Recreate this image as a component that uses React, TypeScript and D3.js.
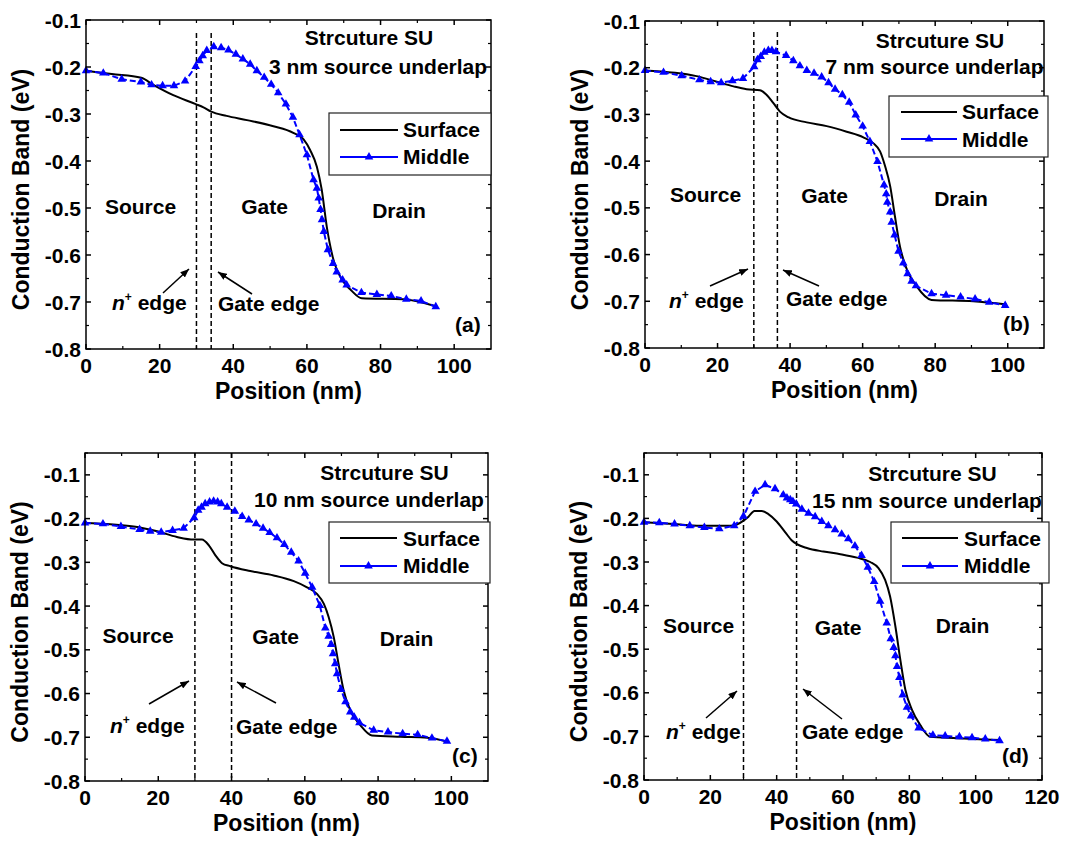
import React from 'react';
import * as d3 from 'd3';

type Pt = [number, number];

// ---------------- DATA ----------------
const surfaceA: Pt[] = [[0,-0.208],[7,-0.215],[15,-0.223],[18.3,-0.238],[23.7,-0.260],[29.8,-0.279],[31.9,-0.286],[34,-0.295],[38.2,-0.304],[43.7,-0.313],[50.9,-0.326],[56.3,-0.340],[59.1,-0.354],[60.9,-0.377],[62.7,-0.412],[64,-0.460],[65.4,-0.540],[67,-0.604],[69.9,-0.657],[72,-0.675],[74.9,-0.692],[86.2,-0.694],[95,-0.709]];
const middleA: Pt[] = [[0,-0.208],[4.7,-0.213],[9.7,-0.226],[14.9,-0.232],[17.8,-0.238],[20.8,-0.240],[23.9,-0.240],[26.9,-0.230],[29.8,-0.199],[30.8,-0.187],[31.7,-0.176],[32.8,-0.165],[34.7,-0.157],[36.7,-0.159],[38.7,-0.164],[40.7,-0.173],[42.6,-0.183],[44.6,-0.194],[46.4,-0.208],[48.4,-0.222],[50.3,-0.237],[52.2,-0.255],[54.3,-0.279],[56.2,-0.307],[58.0,-0.344],[60.0,-0.387],[61.8,-0.440],[62.7,-0.458],[63.2,-0.479],[63.7,-0.503],[64.1,-0.525],[64.6,-0.550],[65.7,-0.589],[67.1,-0.618],[68.1,-0.636],[69.7,-0.653],[70.8,-0.664],[74.8,-0.680],[79.0,-0.684],[82.9,-0.687],[87.0,-0.694],[91.0,-0.698],[95.0,-0.710]];

const surfaceB: Pt[] = [[0,-0.206],[14.2,-0.218],[19.8,-0.230],[24.4,-0.240],[28,-0.246],[31.7,-0.248],[33.5,-0.258],[35.4,-0.276],[37.2,-0.294],[39.5,-0.306],[44.6,-0.317],[50.1,-0.325],[55.6,-0.337],[60.2,-0.349],[63,-0.362],[64.8,-0.379],[66.2,-0.411],[67.6,-0.454],[68.9,-0.518],[70.3,-0.583],[72.2,-0.632],[74.9,-0.668],[79,-0.697],[90.5,-0.700],[99.7,-0.707]];
const middleB: Pt[] = [[0,-0.206],[5.1,-0.210],[10.1,-0.217],[15.0,-0.226],[18.1,-0.230],[21.0,-0.232],[24.1,-0.228],[27.0,-0.223],[30.1,-0.198],[31.0,-0.183],[31.9,-0.176],[32.9,-0.167],[34.0,-0.163],[35.0,-0.163],[36.1,-0.166],[38.9,-0.174],[40.9,-0.185],[42.7,-0.196],[44.6,-0.206],[46.6,-0.212],[48.7,-0.220],[50.6,-0.232],[52.4,-0.246],[54.4,-0.258],[56.3,-0.274],[58.1,-0.301],[60.0,-0.325],[62.0,-0.358],[64.1,-0.401],[65.9,-0.451],[66.5,-0.470],[66.8,-0.488],[67.6,-0.509],[68.0,-0.531],[68.8,-0.558],[69.9,-0.593],[71.2,-0.618],[72.4,-0.641],[73.5,-0.657],[74.7,-0.667],[79.0,-0.684],[83.0,-0.687],[87.0,-0.691],[91.0,-0.695],[94.9,-0.702],[99.3,-0.709]];

const surfaceC: Pt[] = [[0,-0.210],[13.3,-0.218],[19.7,-0.229],[25.1,-0.242],[29.7,-0.248],[31.9,-0.248],[33.8,-0.261],[35.6,-0.284],[37.4,-0.302],[39.7,-0.309],[45.1,-0.320],[51.5,-0.330],[57,-0.343],[60.6,-0.357],[63.3,-0.372],[65.2,-0.395],[66.5,-0.425],[67.9,-0.471],[69.2,-0.532],[70.6,-0.593],[72.4,-0.638],[75.2,-0.673],[78.3,-0.696],[86.1,-0.699],[93.4,-0.701],[99.3,-0.711]];
const middleC: Pt[] = [[0,-0.210],[4.9,-0.212],[9.8,-0.218],[14.9,-0.225],[17.8,-0.229],[20.8,-0.231],[23.9,-0.227],[26.9,-0.222],[29.8,-0.198],[30.9,-0.181],[31.8,-0.174],[32.8,-0.166],[34.0,-0.162],[35.1,-0.160],[36.2,-0.162],[37.2,-0.166],[38.8,-0.174],[40.9,-0.183],[42.9,-0.195],[44.7,-0.203],[46.7,-0.212],[48.6,-0.222],[50.4,-0.232],[52.4,-0.244],[54.4,-0.259],[56.3,-0.277],[58.3,-0.297],[60.1,-0.325],[62.0,-0.357],[64.1,-0.399],[65.6,-0.450],[66.5,-0.469],[67.2,-0.488],[67.7,-0.509],[68.3,-0.532],[68.8,-0.555],[69.9,-0.591],[71.1,-0.619],[72.4,-0.642],[73.5,-0.654],[74.9,-0.667],[78.8,-0.684],[82.7,-0.688],[86.7,-0.692],[90.8,-0.694],[94.7,-0.702],[98.8,-0.709]];

const surfaceD: Pt[] = [[0,-0.209],[8.9,-0.213],[16.9,-0.217],[26,-0.217],[28,-0.214],[30,-0.205],[31.5,-0.196],[33.3,-0.183],[35.5,-0.183],[37.5,-0.190],[40,-0.207],[42.6,-0.232],[44.5,-0.250],[46.1,-0.259],[49.1,-0.268],[54.1,-0.276],[59.2,-0.282],[64.2,-0.290],[68.2,-0.300],[70.7,-0.314],[72.7,-0.341],[74.2,-0.379],[75.8,-0.448],[77.3,-0.525],[78.8,-0.593],[80.8,-0.639],[83.3,-0.674],[86.3,-0.701],[94.4,-0.704],[99.4,-0.706],[107.4,-0.708]];
const middleD: Pt[] = [[0,-0.209],[4.6,-0.210],[9.2,-0.213],[13.8,-0.217],[18.2,-0.221],[22.7,-0.224],[27.2,-0.217],[30.0,-0.195],[33.5,-0.138],[36.5,-0.123],[39.5,-0.132],[42.0,-0.146],[43.1,-0.153],[44.1,-0.157],[44.9,-0.161],[45.9,-0.167],[47.6,-0.179],[49.6,-0.188],[51.6,-0.196],[53.6,-0.207],[55.6,-0.217],[57.6,-0.226],[59.6,-0.236],[61.6,-0.247],[63.6,-0.263],[65.6,-0.285],[67.5,-0.312],[69.4,-0.345],[71.2,-0.390],[73.2,-0.440],[74.4,-0.476],[75.3,-0.496],[75.8,-0.515],[76.3,-0.540],[77.0,-0.565],[78.0,-0.605],[79.3,-0.633],[80.5,-0.653],[82.8,-0.681],[87.1,-0.697],[90.8,-0.699],[95.1,-0.701],[98.9,-0.703],[102.9,-0.706],[107.2,-0.710]];

const xTicksA = [0, 20, 40, 60, 80, 100];
const xTicksD = [0, 20, 40, 60, 80, 100, 120];
const yTicks = [-0.8, -0.7, -0.6, -0.5, -0.4, -0.3, -0.2, -0.1];
const seriesNames = ['Surface', 'Middle'];
const regionNames = ['Source', 'Gate', 'Drain'];
const underlaps = [3, 7, 10, 15];
const panelTags = ['(a)', '(b)', '(c)', '(d)'];
const nEdgeX = [30, 30, 30, 30];
const gateEdgeX = [34, 36.5, 40, 46];

// ---------------- LAYOUT ----------------
interface Layout {
  left: number; right: number; top: number; bottom: number;
  xMax: number; yTop: number; xTicks: number[];
  title1: [number, number]; title2: [number, number];
  legend: [number, number, number, number];
  legLine: [number, number]; legText: number; legY: [number, number]; legBase: [number, number];
  source: [number, number]; gate: [number, number]; drain: [number, number];
  nEdge: [number, number]; gEdge: [number, number]; tag: [number, number];
  arrow1: [number, number, number, number]; arrow2: [number, number, number, number];
  dashTop: number;
}

const layouts: Layout[] = [
  {
    left: 86, right: 491, top: 20, bottom: 349, xMax: 110, yTop: -0.1, xTicks: xTicksA,
    title1: [283, 25], title2: [292, 54],
    legend: [243, 93, 162, 62], legLine: [254, 312], legText: 317, legY: [110, 137], legBase: [117, 144],
    source: [54.5, 194], gate: [178.5, 194], drain: [313, 198],
    nEdge: [26, 290], gEdge: [132, 291], tag: [369, 312],
    arrow1: [77, 273, 103, 249], arrow2: [166, 274, 132, 252], dashTop: 13,
  },
  {
    left: 645, right: 1044, top: 21, bottom: 348, xMax: 110, yTop: -0.1, xTicks: xTicksA,
    title1: [295, 27], title2: [289.5, 53],
    legend: [244, 75, 159, 61], legLine: [256, 312], legText: 317, legY: [91, 118], legBase: [98, 126],
    source: [60.5, 181], gate: [179.5, 182], drain: [316, 185],
    nEdge: [24, 287], gEdge: [141, 285], tag: [358, 310],
    arrow1: [65, 265, 103, 248], arrow2: [174, 265, 138, 249], dashTop: 11,
  },
  {
    left: 85, right: 488, top: 453, bottom: 781, xMax: 110, yTop: -0.05, xTicks: xTicksA,
    title1: [299.5, 27], title2: [284, 54],
    legend: [244, 69, 161, 61], legLine: [255, 312], legText: 318, legY: [85, 113], legBase: [93, 120],
    source: [53, 190], gate: [190.5, 191], drain: [321.5, 193],
    nEdge: [25, 280], gEdge: [151, 281], tag: [367, 310],
    arrow1: [64, 251, 104, 228], arrow2: [191, 250, 152, 229], dashTop: 0,
  },
  {
    left: 644, right: 1042, top: 453, bottom: 780, xMax: 120, yTop: -0.05, xTicks: xTicksD,
    title1: [288.5, 28], title2: [283, 55],
    legend: [247, 69, 158, 61], legLine: [258, 314], legText: 320, legY: [85, 113], legBase: [93, 120],
    source: [54.5, 180], gate: [194, 182], drain: [318.5, 180],
    nEdge: [22, 286], gEdge: [158, 286], tag: [358, 310],
    arrow1: [62, 265, 93, 238], arrow2: [198, 266, 159, 236], dashTop: 0,
  },
];

const surfaces = [surfaceA, surfaceB, surfaceC, surfaceD];
const middles = [middleA, middleB, middleC, middleD];

const FONT = '"Liberation Sans", Arial, Helvetica, sans-serif';
const BLUE = '#0000ff';

function Panel({ idx }: { idx: number }) {
  const L = layouts[idx];
  const x = d3.scaleLinear().domain([0, L.xMax]).range([L.left, L.right]);
  const y = d3.scaleLinear().domain([-0.8, L.yTop]).range([L.bottom, L.top]);
  const surfLine = d3.line<Pt>().x(d => x(d[0])).y(d => y(d[1])).curve(d3.curveMonotoneX);
  const midLine = d3.line<Pt>().x(d => x(d[0])).y(d => y(d[1]));
  const tri = d3.symbol(d3.symbolTriangle, 32)() as string;

  const xMinor = d3.range(10, L.xMax, 20);
  const yMinor = d3.range(-0.75, L.yTop + 1e-9, 0.1).map(v => Math.round(v * 100) / 100);

  const ox = L.left, oy = L.top;
  const MAJ = 5, MIN = 3;
  const fs = 21;
  const cx = (L.left + L.right) / 2;
  const cy = (L.top + L.bottom) / 2 + 5;

  return (
    <g fontFamily={FONT} fontWeight="bold" fill="#000">
      {/* vertical dashed edges */}
      {[nEdgeX[idx], gateEdgeX[idx]].map((v, i) => (
        <line key={'e' + i} x1={x(v)} x2={x(v)} y1={oy + L.dashTop} y2={L.bottom}
          stroke="#000" strokeWidth={1.5} strokeDasharray="5,3" />
      ))}

      {/* curves */}
      <path d={surfLine(surfaces[idx]) || ''} fill="none" stroke="#000" strokeWidth={2} />
      <path d={midLine(middles[idx]) || ''} fill="none" stroke={BLUE} strokeWidth={2} strokeDasharray="6,3" />
      {middles[idx].map((d, i) => (
        <path key={'m' + i} d={tri} transform={`translate(${x(d[0])},${y(d[1])})`} fill={BLUE} />
      ))}

      {/* frame */}
      <rect x={L.left} y={L.top} width={L.right - L.left} height={L.bottom - L.top}
        fill="none" stroke="#000" strokeWidth={1.5} />

      {/* x ticks */}
      {L.xTicks.map(v => (
        <g key={'xt' + v}>
          <line x1={x(v)} x2={x(v)} y1={L.bottom} y2={L.bottom - MAJ} stroke="#000" strokeWidth={1.5} />
          <line x1={x(v)} x2={x(v)} y1={L.top} y2={L.top + MAJ} stroke="#000" strokeWidth={1.5} />
          <text x={x(v)} y={L.bottom + 24} textAnchor="middle" fontSize={fs}>{String(v)}</text>
        </g>
      ))}
      {xMinor.map(v => (
        <g key={'xm' + v}>
          <line x1={x(v)} x2={x(v)} y1={L.bottom} y2={L.bottom - MIN} stroke="#000" strokeWidth={1.2} />
          <line x1={x(v)} x2={x(v)} y1={L.top} y2={L.top + MIN} stroke="#000" strokeWidth={1.2} />
        </g>
      ))}
      {/* y ticks */}
      {yTicks.map(v => (
        <g key={'yt' + v}>
          <line x1={L.left} x2={L.left + MAJ} y1={y(v)} y2={y(v)} stroke="#000" strokeWidth={1.5} />
          <line x1={L.right} x2={L.right - MAJ} y1={y(v)} y2={y(v)} stroke="#000" strokeWidth={1.5} />
          <text x={L.left - 5} y={y(v)} dy="0.36em" textAnchor="end" fontSize={fs}>{v.toFixed(1)}</text>
        </g>
      ))}
      {yMinor.map(v => (
        <g key={'ym' + v}>
          <line x1={L.left} x2={L.left + MIN} y1={y(v)} y2={y(v)} stroke="#000" strokeWidth={1.2} />
          <line x1={L.right} x2={L.right - MIN} y1={y(v)} y2={y(v)} stroke="#000" strokeWidth={1.2} />
        </g>
      ))}

      {/* axis titles */}
      <text x={cx} y={L.bottom + 50} textAnchor="middle" fontSize={23}>Position (nm)</text>
      <text transform={`translate(${L.left - 57},${cy}) rotate(-90)`} textAnchor="middle" fontSize={23}>
        Conduction Band (eV)
      </text>

      {/* titles */}
      <text x={ox + L.title1[0]} y={oy + L.title1[1]} textAnchor="middle" fontSize={fs}>Strcuture SU</text>
      <text x={ox + L.title2[0]} y={oy + L.title2[1]} textAnchor="middle" fontSize={fs}>
        {`${underlaps[idx]} nm source underlap`}
      </text>

      {/* legend */}
      <rect x={ox + L.legend[0]} y={oy + L.legend[1]} width={L.legend[2]} height={L.legend[3]}
        fill="#fff" stroke="#222" strokeWidth={1.2} />
      <line x1={ox + L.legLine[0]} x2={ox + L.legLine[1]} y1={oy + L.legY[0]} y2={oy + L.legY[0]}
        stroke="#000" strokeWidth={2} />
      <line x1={ox + L.legLine[0]} x2={ox + L.legLine[1]} y1={oy + L.legY[1]} y2={oy + L.legY[1]}
        stroke={BLUE} strokeWidth={2} />
      <path d={tri} transform={`translate(${ox + (L.legLine[0] + L.legLine[1]) / 2},${oy + L.legY[1]})`} fill={BLUE} />
      <text x={ox + L.legText} y={oy + L.legBase[0]} fontSize={fs}>{seriesNames[0]}</text>
      <text x={ox + L.legText} y={oy + L.legBase[1]} fontSize={fs}>{seriesNames[1]}</text>

      {/* regions */}
      <text x={ox + L.source[0]} y={oy + L.source[1]} textAnchor="middle" fontSize={fs}>{regionNames[0]}</text>
      <text x={ox + L.gate[0]} y={oy + L.gate[1]} textAnchor="middle" fontSize={fs}>{regionNames[1]}</text>
      <text x={ox + L.drain[0]} y={oy + L.drain[1]} textAnchor="middle" fontSize={fs}>{regionNames[2]}</text>

      {/* edge annotations */}
      <text x={ox + L.nEdge[0]} y={oy + L.nEdge[1]} fontSize={fs}>
        <tspan fontStyle="italic">n</tspan>
        <tspan dy={-9} fontSize={12}>+</tspan>
        <tspan dy={9}> edge</tspan>
      </text>
      <text x={ox + L.gEdge[0]} y={oy + L.gEdge[1]} fontSize={fs}>Gate edge</text>
      <text x={ox + L.tag[0]} y={oy + L.tag[1]} fontSize={fs}>{panelTags[idx]}</text>

      <line x1={ox + L.arrow1[0]} y1={oy + L.arrow1[1]} x2={ox + L.arrow1[2]} y2={oy + L.arrow1[3]}
        stroke="#000" strokeWidth={1.5} markerEnd="url(#arrowHead)" />
      <line x1={ox + L.arrow2[0]} y1={oy + L.arrow2[1]} x2={ox + L.arrow2[2]} y2={oy + L.arrow2[3]}
        stroke="#000" strokeWidth={1.5} markerEnd="url(#arrowHead)" />
    </g>
  );
}

export default function App() {
  return (
    <svg width={1067} height={842} style={{ position: 'absolute', left: 0, top: 0, background: '#fff' }}>
      <defs>
        <marker id="arrowHead" viewBox="0 0 10 8" refX={10} refY={4} markerWidth={9} markerHeight={7}
          markerUnits="userSpaceOnUse" orient="auto">
          <path d="M0,0 L10,4 L0,8 Z" fill="#000" />
        </marker>
      </defs>
      <rect x={0} y={0} width={1067} height={842} fill="#fff" />
      {[0, 1, 2, 3].map(i => <Panel key={i} idx={i} />)}
    </svg>
  );
}
